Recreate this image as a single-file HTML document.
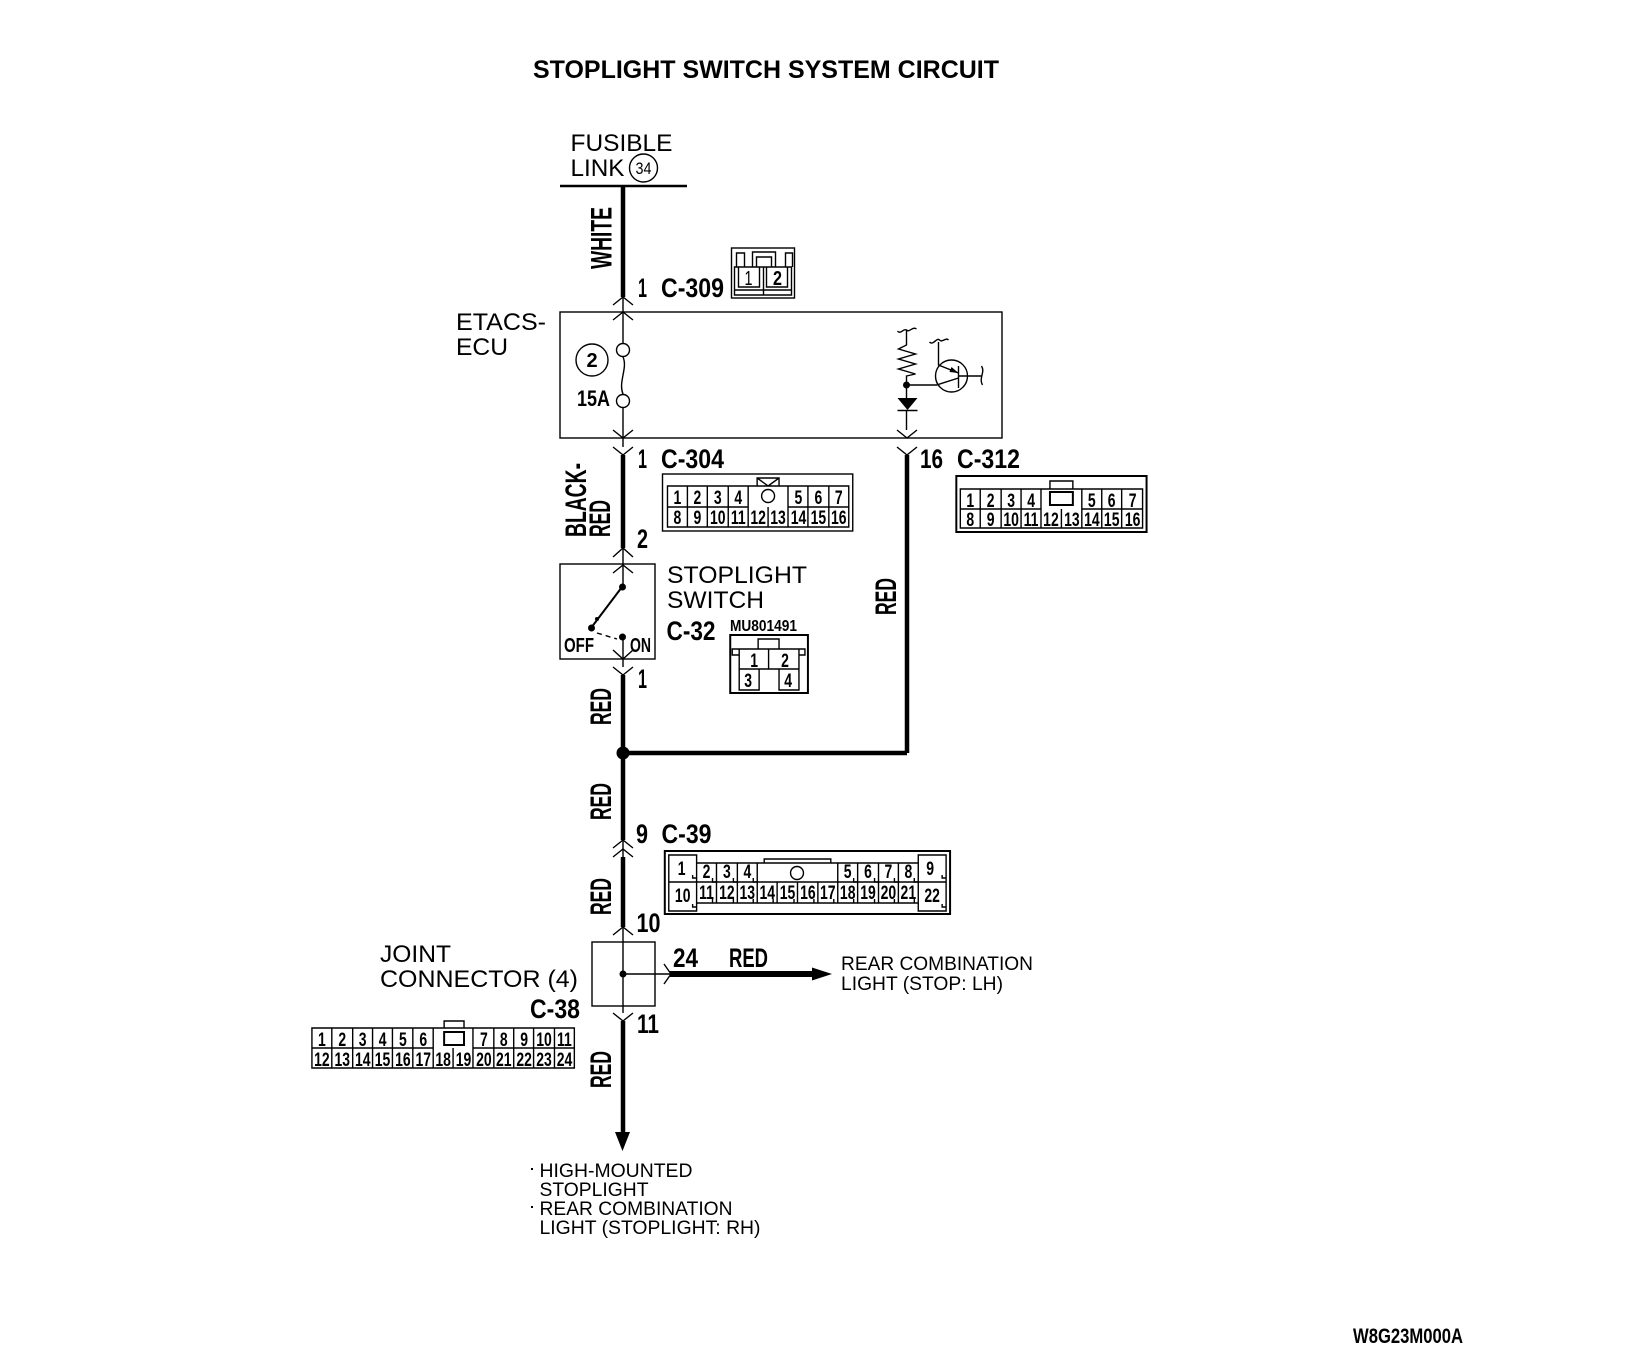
<!DOCTYPE html>
<html><head><meta charset="utf-8"><style>
html,body{margin:0;padding:0;background:#fff}
svg{display:block}
text{font-family:"Liberation Sans",Arial,sans-serif;fill:#000}
.r{font-size:24.5px}
.s{font-size:19px}
.b{font-weight:bold;font-size:26.5px}
.v{font-weight:bold;font-size:30px}
.n text{font-weight:bold;font-size:19.5px;text-anchor:middle;transform-box:fill-box;transform-origin:center;transform:scaleX(.72)}
.t{fill:none;stroke:#000;stroke-width:1.4}
.m{fill:none;stroke:#000;stroke-width:2}
.w{fill:none;stroke:#000;stroke-width:4.5}
</style></head><body>
<svg width="1632" height="1352" viewBox="0 0 1632 1352" xmlns="http://www.w3.org/2000/svg">
<rect width="1632" height="1352" fill="#fff"/>
<text x="533" y="78" font-size="25" font-weight="bold" textLength="466" lengthAdjust="spacingAndGlyphs">STOPLIGHT SWITCH SYSTEM CIRCUIT</text>
<text class="r" x="570.500" y="151" textLength="102" lengthAdjust="spacingAndGlyphs">FUSIBLE</text>
<text class="r" x="570.500" y="176" textLength="54" lengthAdjust="spacingAndGlyphs">LINK</text>
<circle class="t" cx="643.500" cy="168" r="14"/>
<text x="643.500" y="174" font-size="17" text-anchor="middle" textLength="16" lengthAdjust="spacingAndGlyphs">34</text>
<path d="M560 186H687" stroke="#000" stroke-width="2.6" fill="none"/>

<!-- wires -->
<g transform="translate(-1,0)">
<path class="w" d="M624 186V297M624 455V548M624 675V840M624 857V927M624 1021V1134M908 455V753M624 753H908"/>
<path d="M671 974H816" fill="none" stroke="#000" stroke-width="6"/>
<path class="t" d="M624 297V343M624 357C629 368 619 382 624 394M624 408V447M624 548V587M624 637V667M624 840V857M624 927V1013M624 974H671"/>
<path d="M616 1132H631L623.500 1151Z"/>
<path d="M813 967.500L833 974L813 980.500Z"/>
<circle cx="624" cy="753" r="6.500"/>
<circle cx="624" cy="974" r="3.500"/>

<!-- chevrons -->
<path class="t" d="M614 305L624 297L634 305M614 320L624 312L634 320M614 430L624 438L634 430M614 447L624 455L634 447M898 430L908 438L918 430M898 447L908 455L918 447M614 557L624 548L634 557M614 573L624 565L634 573M614 650L624 659L634 650M614 667L624 675L634 667M614 848L624 840L634 848M614 857L624 849L634 857M614 935L624 927L634 935M614 1013L624 1021L634 1013M665 964L672 974L665 984"/>
</g>

<!-- rotated labels -->
<text class="v" transform="translate(611.500,269) rotate(-90)" textLength="62" lengthAdjust="spacingAndGlyphs">WHITE</text>
<text class="v" transform="translate(586,537) rotate(-90)" textLength="74" lengthAdjust="spacingAndGlyphs">BLACK-</text>
<text class="v" transform="translate(610,537) rotate(-90)" textLength="37" lengthAdjust="spacingAndGlyphs">RED</text>
<text class="v" transform="translate(611,725) rotate(-90)" textLength="37" lengthAdjust="spacingAndGlyphs">RED</text>
<text class="v" transform="translate(896,615) rotate(-90)" textLength="37" lengthAdjust="spacingAndGlyphs">RED</text>
<text class="v" transform="translate(611,820) rotate(-90)" textLength="37" lengthAdjust="spacingAndGlyphs">RED</text>
<text class="v" transform="translate(611,915) rotate(-90)" textLength="37" lengthAdjust="spacingAndGlyphs">RED</text>
<text class="v" transform="translate(611,1088) rotate(-90)" textLength="37" lengthAdjust="spacingAndGlyphs">RED</text>

<!-- pin labels -->
<text class="b" x="638" y="297" textLength="9" lengthAdjust="spacingAndGlyphs">1</text>
<text class="b" x="661" y="297" textLength="63" lengthAdjust="spacingAndGlyphs">C-309</text>
<text class="b" x="638" y="468" textLength="9" lengthAdjust="spacingAndGlyphs">1</text>
<text class="b" x="661" y="468" textLength="63" lengthAdjust="spacingAndGlyphs">C-304</text>
<text class="b" x="920" y="468" textLength="23" lengthAdjust="spacingAndGlyphs">16</text>
<text class="b" x="957" y="468" textLength="63" lengthAdjust="spacingAndGlyphs">C-312</text>
<text class="b" x="637" y="548" textLength="11" lengthAdjust="spacingAndGlyphs">2</text>
<text class="b" x="638" y="688" textLength="9" lengthAdjust="spacingAndGlyphs">1</text>
<text class="b" x="666.500" y="640" textLength="49" lengthAdjust="spacingAndGlyphs">C-32</text>
<text x="730" y="631" font-size="16" font-weight="bold" textLength="67" lengthAdjust="spacingAndGlyphs">MU801491</text>
<text class="b" x="636" y="843" textLength="12" lengthAdjust="spacingAndGlyphs">9</text>
<text class="b" x="661.500" y="843" textLength="50" lengthAdjust="spacingAndGlyphs">C-39</text>
<text class="b" x="636.500" y="932" textLength="24" lengthAdjust="spacingAndGlyphs">10</text>
<text class="b" x="673" y="967" textLength="25" lengthAdjust="spacingAndGlyphs">24</text>
<text class="b" x="729" y="967" textLength="39" lengthAdjust="spacingAndGlyphs">RED</text>
<text class="b" x="530" y="1018" textLength="50" lengthAdjust="spacingAndGlyphs">C-38</text>
<text class="b" x="637" y="1033" textLength="22" lengthAdjust="spacingAndGlyphs">11</text>
<text x="1353" y="1343" font-size="21" font-weight="bold" textLength="110" lengthAdjust="spacingAndGlyphs">W8G23M000A</text>

<!-- ETACS-ECU -->
<text class="r" x="456" y="330" textLength="90" lengthAdjust="spacingAndGlyphs">ETACS-</text>
<text class="r" x="456" y="355" textLength="52" lengthAdjust="spacingAndGlyphs">ECU</text>
<rect class="t" x="560" y="312" width="442" height="126"/>
<circle class="t" cx="592" cy="360" r="16"/>
<text x="592" y="367" font-size="20" font-weight="bold" text-anchor="middle">2</text>
<text x="577" y="406" font-size="22" font-weight="bold" textLength="33" lengthAdjust="spacingAndGlyphs">15A</text>
<circle class="t" cx="623" cy="350" r="6.500"/>
<circle class="t" cx="623" cy="401" r="6.500"/>
<!-- resistor, diode, transistor -->
<g transform="translate(-1.500,0)">
<path class="t" d="M899 331C902 335 905 328 908 330C911 333 914 326 918 329M908 330V345L900 349L917 354L900 359L917 364L900 369L917 374L908 376V398M908 410V430"/>
<circle cx="908" cy="385" r="3.500"/>
<path d="M899 398H919L909 410Z"/>
<path class="t" d="M899 410.500H919"/>
<circle class="t" cx="953" cy="376" r="16"/>
<path class="t" d="M908 385H938L960 378M960 366V388M960 376H983M960 373L940 365V342M931 342C935 346 938 337 941 340C944 343 947 337 950 340M983 366C987 372 980 378 984 385"/>
<path d="M960 373L951 372L953 367Z"/>
</g>

<!-- C-309 connector -->
<g transform="translate(-1.500,0)">
<rect class="t" x="733" y="248" width="63" height="50"/>
<path class="t" d="M736 295V267H793V295ZM738 267V253H746V267M787 267V253H794V267M754 267V252H777V267M758 267V257H773V267M736 290H793M765 267V295M740 267H761V287H740ZM768 267H789V287H768Z"/>
<text x="750" y="285" font-size="20" text-anchor="middle" textLength="8" lengthAdjust="spacingAndGlyphs">1</text>
<text x="779" y="285" font-size="20" font-weight="bold" text-anchor="middle" textLength="9" lengthAdjust="spacingAndGlyphs">2</text>
</g>

<g transform="translate(2.160,0) scale(.996,1)">
<!-- C-304 connector -->
<rect class="t" x="663" y="474" width="191" height="57"/>
<path class="t" d="M668 486H850V527H668ZM668 507H749M789 507H850M688 486V527M708 486V527M729 486V527M749 486V527M769 507V527M789 486V527M809 486V527M830 486V527M758 486V478H780V486M758 478L769 486L780 478"/>
<circle class="t" cx="769" cy="496" r="6.500"/>
<g class="n">
<text x="678" y="504">1</text><text x="698" y="504">2</text><text x="718.500" y="504">3</text><text x="739" y="504">4</text><text x="799.500" y="504">5</text><text x="819.500" y="504">6</text><text x="840" y="504">7</text>
<text x="678" y="524">8</text><text x="698" y="524">9</text><text x="718.500" y="524">10</text><text x="739" y="524">11</text><text x="759" y="524">12</text><text x="779" y="524">13</text><text x="799.500" y="524">14</text><text x="819.500" y="524">15</text><text x="840" y="524">16</text>
</g>

<!-- C-312 connector -->
<rect class="m" x="958" y="476" width="191" height="56"/>
<path class="t" d="M962 489H1145V528H962ZM962 509H1043M1084 509H1145M982 489V528M1003 489V528M1023 489V528M1043 489V528M1063.500 509V528M1084 489V528M1104 489V528M1124 489V528M1052 489V481H1075V489"/>
<rect class="m" x="1052" y="492" width="23" height="13"/>
<g class="n">
<text x="972" y="507">1</text><text x="992.500" y="507">2</text><text x="1013" y="507">3</text><text x="1033" y="507">4</text><text x="1094" y="507">5</text><text x="1114" y="507">6</text><text x="1135" y="507">7</text>
<text x="972" y="526">8</text><text x="992.500" y="526">9</text><text x="1013" y="526">10</text><text x="1033" y="526">11</text><text x="1053" y="526">12</text><text x="1074" y="526">13</text><text x="1094" y="526">14</text><text x="1114" y="526">15</text><text x="1135" y="526">16</text>
</g>

<!-- C-32 connector -->
<rect class="m" x="731" y="635" width="78" height="58"/>
<path class="t" d="M759 649V639H780V649M740 655H733V649H806V655H800M740 649V669H800V649M769.500 649V669M740 669V690H760V669M780 669V690H800V669"/>
<g class="n"><text x="755" y="667">1</text><text x="786" y="667">2</text><text x="749" y="687">3</text><text x="789" y="687">4</text></g>
</g>

<!-- Stoplight switch -->
<rect class="t" x="560" y="564" width="95" height="95"/>
<path d="M622 587L591 628" stroke="#000" stroke-width="2" fill="none"/>
<circle cx="622.500" cy="587" r="3.500"/><circle cx="591.500" cy="628" r="3.500"/><circle cx="597" cy="619" r="2"/><circle cx="622.500" cy="637" r="3.500"/>
<path class="t" d="M597 633L617 639" stroke-dasharray="5 4"/>
<text x="564" y="652" font-size="20" font-weight="bold" textLength="30" lengthAdjust="spacingAndGlyphs">OFF</text>
<text x="630" y="652" font-size="20" font-weight="bold" textLength="21" lengthAdjust="spacingAndGlyphs">ON</text>
<text class="r" x="667" y="583" textLength="140" lengthAdjust="spacingAndGlyphs">STOPLIGHT</text>
<text class="r" x="667" y="608" textLength="97" lengthAdjust="spacingAndGlyphs">SWITCH</text>

<g transform="translate(1.800,0) scale(.994,1)">
<!-- C-39 connector -->
<rect class="m" x="667" y="851" width="287" height="63"/>
<path class="t" d="M671 855H699V911H671ZM671 882H699M922 855H950V911H922ZM922 882H950M699 863H922M699 882H760M841 882H922M760 882H841M699 903H922M719 863V903M740 863V903M760 863V903M780 882V903M800.500 882V903M821 882V903M841 863V903M861 863V903M882 863V903M902 863V903M767 863V859H834V863"/>
<path class="t" d="M695 875V878H699M695 904V907H699M715 878V882H719M736 878V882H740M756 878V882H760M857 878V882H861M878 878V882H882M898 878V882H902M918 878V882H922M946 875V878H950M946 904V907H950M715 899V903M736 899V903M756 899V903M776 899V903M797 899V903M817 899V903M837 899V903M857 899V903M878 899V903M898 899V903M918 899V903"/>
<circle class="t" cx="800" cy="873" r="6.500"/>
<g class="n">
<text x="684" y="875">1</text><text x="709" y="878">2</text><text x="729.500" y="878">3</text><text x="750" y="878">4</text><text x="851" y="878">5</text><text x="871.500" y="878">6</text><text x="892" y="878">7</text><text x="912" y="878">8</text><text x="934" y="875">9</text>
<text x="685" y="902">10</text><text x="709" y="899">11</text><text x="729.500" y="899">12</text><text x="750" y="899">13</text><text x="770" y="899">14</text><text x="790.500" y="899">15</text><text x="811" y="899">16</text><text x="831" y="899">17</text><text x="851" y="899">18</text><text x="871.500" y="899">19</text><text x="892" y="899">20</text><text x="912" y="899">21</text><text x="936" y="902">22</text>
</g>

<!-- C-38 connector -->
<path class="t" d="M312 1028H576V1068H312ZM312 1048H434M474 1048H576M332 1028V1068M353 1028V1068M373 1028V1068M393 1028V1068M413.500 1028V1068M434 1028V1068M454 1048V1068M474 1028V1068M495 1028V1068M515 1028V1068M535 1028V1068M556 1028V1068M445 1028V1021H465V1028"/>
<rect class="m" x="445" y="1032" width="20" height="13"/>
<g class="n">
<text x="322" y="1046">1</text><text x="342.500" y="1046">2</text><text x="363" y="1046">3</text><text x="383" y="1046">4</text><text x="403.500" y="1046">5</text><text x="424" y="1046">6</text><text x="485" y="1046">7</text><text x="505" y="1046">8</text><text x="525.500" y="1046">9</text><text x="545.500" y="1046">10</text><text x="566" y="1046">11</text>
<text x="322" y="1066">12</text><text x="342.500" y="1066">13</text><text x="363" y="1066">14</text><text x="383" y="1066">15</text><text x="403.500" y="1066">16</text><text x="424" y="1066">17</text><text x="444" y="1066">18</text><text x="464.500" y="1066">19</text><text x="485" y="1066">20</text><text x="505" y="1066">21</text><text x="525.500" y="1066">22</text><text x="545.500" y="1066">23</text><text x="566" y="1066">24</text>
</g>
</g>

<!-- Joint connector -->
<rect class="t" x="592" y="942" width="63" height="64"/>
<text class="r" x="380" y="962" textLength="71" lengthAdjust="spacingAndGlyphs">JOINT</text>
<text class="r" x="380" y="987" textLength="198" lengthAdjust="spacingAndGlyphs">CONNECTOR (4)</text>
<text class="s" x="841" y="970" textLength="192" lengthAdjust="spacingAndGlyphs">REAR COMBINATION</text>
<text class="s" x="841" y="990" textLength="162" lengthAdjust="spacingAndGlyphs">LIGHT (STOP: LH)</text>

<!-- Bottom destinations -->
<rect x="531" y="1168" width="2" height="2"/>
<rect x="531" y="1206" width="2" height="2"/>
<text class="s" x="539.500" y="1177" textLength="153" lengthAdjust="spacingAndGlyphs">HIGH-MOUNTED</text>
<text class="s" x="539.500" y="1196" textLength="109" lengthAdjust="spacingAndGlyphs">STOPLIGHT</text>
<text class="s" x="539.500" y="1215" textLength="193" lengthAdjust="spacingAndGlyphs">REAR COMBINATION</text>
<text class="s" x="539.500" y="1234" textLength="221" lengthAdjust="spacingAndGlyphs">LIGHT (STOPLIGHT: RH)</text>
</svg>
</body></html>
